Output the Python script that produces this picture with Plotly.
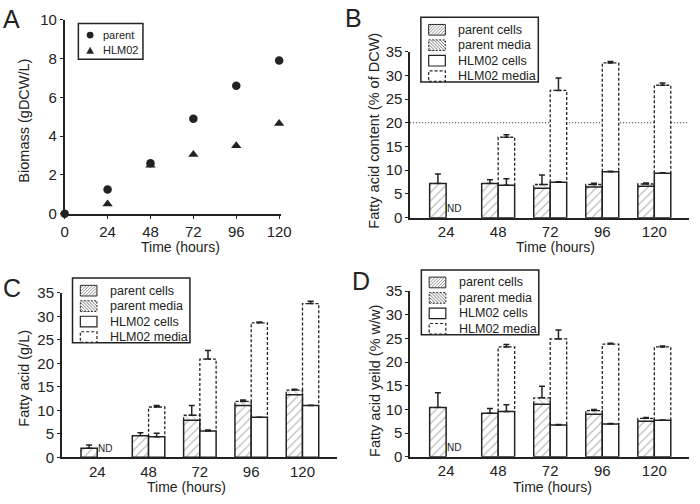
import plotly.graph_objects as go

FONT = "Liberation Sans, Arial, sans-serif"
INK = "#222222"

# ---------------- data ----------------
hours_a = [0, 24, 48, 72, 96, 120]
biomass_parent = [0.0, 1.25, 2.6, 4.9, 6.6, 7.9]
biomass_hlm02 = [-0.05, 0.5, 2.5, 3.05, 3.5, 4.65]

hours = [24, 48, 72, 96, 120]

# Panel B: fatty acid content (% of DCW)
b_parent_cells = [7.2, 7.2, 6.2, 6.45, 6.65]
b_parent_media = [0.0, 0.0, 0.8, 0.55, 0.45]
b_parent_err = [2.0, 0.8, 2.0, 0.25, 0.2]
b_hlm_cells = [None, 6.85, 7.45, 9.7, 9.35]
b_hlm_cells_err = [0, 1.35, 0.15, 0.1, 0.1]
b_hlm_media = [None, 10.1, 19.35, 22.9, 18.55]
b_hlm_media_err = [0, 0.5, 2.6, 0.3, 0.45]

# Panel C: fatty acid (g/L)
c_parent_cells = [1.95, 4.6, 7.9, 11.0, 13.3]
c_parent_media = [0.0, 0.0, 1.05, 0.9, 1.0]
c_parent_err = [0.65, 0.65, 2.05, 0.3, 0.2]
c_hlm_cells = [None, 4.4, 5.6, 8.5, 11.0]
c_hlm_cells_err = [0, 0.7, 0.2, 0.05, 0.05]
c_hlm_media = [None, 6.3, 15.3, 20.1, 21.7]
c_hlm_media_err = [0, 0.3, 1.8, 0.2, 0.5]

# Panel D: fatty acid yield (% w/w)
d_parent_cells = [10.4, 9.2, 11.1, 8.95, 7.5]
d_parent_media = [0.0, 0.0, 1.35, 0.8, 0.6]
d_parent_err = [3.1, 1.0, 2.45, 0.2, 0.2]
d_hlm_cells = [None, 9.55, 6.7, 6.9, 7.7]
d_hlm_cells_err = [0, 1.45, 0.1, 0.1, 0.05]
d_hlm_media = [None, 13.65, 18.2, 16.9, 15.5]
d_hlm_media_err = [0, 0.5, 1.9, 0.2, 0.2]

legend_names = ["parent cells", "parent media", "HLM02 cells", "HLM02 media"]
legend_names_a = ["parent", "HLM02"]
y_titles = ["Biomass (gDCW/L)", "Fatty acid content (% of DCW)",
            "Fatty acid (g/L)", "Fatty acid yeild (% w/w)"]
x_title = "Time (hours)"

BAR_W = 7.6  # bar width in hours
W, H = 700, 504

fig = go.Figure()

# ---------------- Panel A ----------------
fig.add_trace(go.Scatter(x=hours_a, y=biomass_parent, mode="markers", name=legend_names_a[0],
                         marker=dict(symbol="circle", size=8.5, color=INK),
                         cliponaxis=False, xaxis="x", yaxis="y", showlegend=False))
fig.add_trace(go.Scatter(x=hours_a, y=biomass_hlm02, mode="markers", name=legend_names_a[1],
                         marker=dict(symbol="triangle-up", size=9, color=INK),
                         cliponaxis=False, xaxis="x", yaxis="y", showlegend=False))


def add_bar_panel(xa, ya, pc, pm, perr, hc, herr, hm, hmerr):
    base_p = pc
    base_h = [v if v is not None else 0 for v in hc]
    # media bars first (white fill), parent media hatched
    fig.add_trace(go.Bar(x=hours, y=pm, base=base_p, offset=-BAR_W, width=BAR_W, name=legend_names[1],
                         marker=dict(color="white", line=dict(width=0),
                                     pattern=dict(shape="\\", fgcolor="#888", bgcolor="white",
                                                  size=5, solidity=0.2)),
                         error_y=dict(type="data", symmetric=False, array=perr,
                                      arrayminus=[0] * len(perr), color=INK, thickness=1.5, width=3),
                         showlegend=False, xaxis=xa, yaxis=ya))
    fig.add_trace(go.Bar(x=hours, y=hm, base=base_h, offset=0, width=BAR_W, name=legend_names[3],
                         marker=dict(color="white", line=dict(width=0)),
                         error_y=dict(type="data", symmetric=False, array=hmerr,
                                      arrayminus=[0] * len(hmerr), color=INK, thickness=1.5, width=3),
                         showlegend=False, xaxis=xa, yaxis=ya))
    # cells bars
    fig.add_trace(go.Bar(x=hours, y=pc, offset=-BAR_W, width=BAR_W, name=legend_names[0],
                         marker=dict(color="white", line=dict(width=1.5, color=INK),
                                     pattern=dict(shape="/", fgcolor="#777", bgcolor="white",
                                                  size=6, solidity=0.2)),
                         showlegend=False, xaxis=xa, yaxis=ya))
    fig.add_trace(go.Bar(x=hours, y=hc, offset=0, width=BAR_W, name=legend_names[2],
                         marker=dict(color="white", line=dict(width=1.5, color=INK)),
                         error_y=dict(type="data", symmetric=False, array=herr,
                                      arrayminus=[0] * len(herr), color=INK, thickness=1.5, width=3),
                         showlegend=False, xaxis=xa, yaxis=ya))
    # dashed outlines for the media parts
    for off, base, vals in ((-BAR_W, base_p, pm), (0, base_h, hm)):
        xs, ys = [], []
        for h, b, v in zip(hours, base, vals):
            if v is None or v <= 0:
                continue
            x0, x1 = h + off, h + off + BAR_W
            xs += [x0, x0, x1, x1, None]
            ys += [b, b + v, b + v, b, None]
        fig.add_trace(go.Scatter(x=xs, y=ys, mode="lines", showlegend=False, hoverinfo="skip",
                                 line=dict(color=INK, width=1.3, dash="3px,2px"),
                                 xaxis=xa, yaxis=ya))


add_bar_panel("x2", "y2", b_parent_cells, b_parent_media, b_parent_err,
              b_hlm_cells, b_hlm_cells_err, b_hlm_media, b_hlm_media_err)
add_bar_panel("x3", "y3", c_parent_cells, c_parent_media, c_parent_err,
              c_hlm_cells, c_hlm_cells_err, c_hlm_media, c_hlm_media_err)
add_bar_panel("x4", "y4", d_parent_cells, d_parent_media, d_parent_err,
              d_hlm_cells, d_hlm_cells_err, d_hlm_media, d_hlm_media_err)

# ---------------- axes ----------------
tickfont = dict(family=FONT, size=15, color=INK)
titlefont = dict(family=FONT, size=14.5, color=INK)
common = dict(showline=True, linecolor=INK, linewidth=1.5, showgrid=False, zeroline=False,
              tickfont=tickfont, ticks="outside", ticklen=3, tickcolor=INK, tickwidth=1)


def xbar(domain, anchor):
    return dict(common, domain=domain, anchor=anchor, range=[7.4, 136], tickvals=hours, ticks="")


def ybar(domain, anchor):
    return dict(common, domain=domain, anchor=anchor, range=[0, 35], dtick=5)


fig.update_layout(
    width=W, height=H, margin=dict(l=0, r=0, t=0, b=0),
    paper_bgcolor="white", plot_bgcolor="white", barmode="overlay", showlegend=False,
    font=dict(family=FONT, color=INK),
    xaxis=dict(common, domain=[0.0886, 0.4043], anchor="y", range=[0, 121], tickvals=hours_a),
    yaxis=dict(common, domain=[0.5794, 0.9782], anchor="x", range=[0, 10], dtick=2),
    xaxis2=xbar([0.5929, 1.0], "y2"),
    yaxis2=ybar([0.5714, 0.9127], "x2"),
    xaxis3=xbar([0.0843, 0.4857], "y3"),
    yaxis3=ybar([0.0794, 0.4173], "x3"),
    xaxis4=xbar([0.5929, 1.0], "y4"),
    yaxis4=ybar([0.0808, 0.4206], "x4"),
)

# dotted reference line at 20 in panel B
fig.add_shape(type="line", xref="x2 domain", yref="y2", x0=0, x1=1, y0=20, y1=20,
              line=dict(color=INK, width=1.2, dash="1px,2px"), layer="below")


# ---------------- hand-drawn legends (pixel layout -> paper coords) ----------------
def px(x):
    return x / W


def py(y):
    return 1 - y / H


def rect(x0, y0, x1, y1, width=1.5, dash="solid", fill="white"):
    fig.add_shape(type="rect", xref="paper", yref="paper", x0=px(x0), x1=px(x1),
                  y0=py(y1), y1=py(y0), line=dict(color=INK, width=width, dash=dash),
                  fillcolor=fill, layer="above")


def hatch(x0, y0, x1, y1, forward=True, step=3.2, color="#777"):
    segs = []
    if forward:  # "/" : x + y = c
        c = x0 + y0 + step
        while c < x1 + y1:
            xa, xb = max(x0, c - y1), min(x1, c - y0)
            if xb > xa:
                segs.append(f"M{px(xa):.5f},{py(c - xa):.5f}L{px(xb):.5f},{py(c - xb):.5f}")
            c += step
    else:  # "\" : x - y = c
        c = x0 - y1 + step
        while c < x1 - y0:
            xa, xb = max(x0, c + y0), min(x1, c + y1)
            if xb > xa:
                segs.append(f"M{px(xa):.5f},{py(xa - c):.5f}L{px(xb):.5f},{py(xb - c):.5f}")
            c += step
    fig.add_shape(type="path", xref="paper", yref="paper", path="".join(segs),
                  line=dict(color=color, width=0.8), layer="above")


def label(text, x, y, size):
    fig.add_annotation(text=text, xref="paper", yref="paper", x=px(x), y=py(y),
                       xanchor="left", yanchor="middle", showarrow=False,
                       font=dict(family=FONT, size=size, color=INK))


def bar_legend(bx, by):
    rect(bx, by, bx + 120, by + 67)
    rows = [by + 13, by + 29, by + 45, by + 61]
    sx0, sx1 = bx + 8, bx + 25
    for i, (name, cy) in enumerate(zip(legend_names, rows)):
        y0, y1 = cy - 5.5, cy + 5.5
        if i == 0:
            rect(sx0, y0, sx1, y1, width=1)
            hatch(sx0, y0, sx1, y1, forward=True)
        elif i == 1:
            rect(sx0, y0, sx1, y1, width=1, dash="2px,1.5px")
            hatch(sx0, y0, sx1, y1, forward=False, color="#555")
        elif i == 2:
            rect(sx0, y0, sx1, y1, width=1.2)
        else:
            rect(sx0, y0, sx1, y1, width=1.2, dash="3px,2px")
        label(name, bx + 36, cy, 12.5)


bar_legend(426, 8.5)
bar_legend(70, 278.5)
bar_legend(426.5, 270)

# legend for panel A
rect(76, 15, 142, 52)
fig.add_shape(type="circle", xref="paper", yref="paper", x0=px(84.5), x1=px(91.5),
              y0=py(30.5), y1=py(23.5), fillcolor=INK, line=dict(color=INK, width=0), layer="above")
fig.add_shape(type="path", xref="paper", yref="paper",
              path=f"M{px(84.5)},{py(46)}L{px(91.5)},{py(46)}L{px(88)},{py(39.5)}Z",
              fillcolor=INK, line=dict(color=INK, width=0.5), layer="above")
label(legend_names_a[0], 99, 27, 11)
label(legend_names_a[1], 99, 42.5, 11)

# axis titles
for txt, x, y in zip(y_titles, (21, 378, 21, 379), (116, 126, 382, 385)):
    fig.add_annotation(text=txt, xref="paper", yref="paper", x=px(x), y=py(y), textangle=-90,
                       xanchor="center", yanchor="middle", showarrow=False, font=titlefont)
for x, y in ((180, 256), (564, 256), (186, 503.5), (560, 503.5)):
    fig.add_annotation(text=x_title, xref="paper", yref="paper", x=px(x), y=py(y),
                       xanchor="center", yanchor="bottom", showarrow=False, borderpad=0,
                       font=dict(family=FONT, size=14, color=INK))

# panel letters and ND labels
for txt, x, y in (("A", 8, 10), ("B", 357, 9), ("C", 8, 289), ("D", 365, 282)):
    fig.add_annotation(text=txt, xref="paper", yref="paper", x=px(x), y=py(y),
                       xanchor="center", yanchor="middle", showarrow=False,
                       font=dict(family=FONT, size=25, color=INK))
for xa, ya in (("x2", "y2"), ("x3", "y3"), ("x4", "y4")):
    fig.add_annotation(text="ND", xref=xa, yref=ya, x=hours[0] + BAR_W / 2, y=0.3,
                       xanchor="center", yanchor="bottom", showarrow=False,
                       font=dict(family=FONT, size=10, color=INK))

fig.write_html("out.html", config={"displayModeBar": False},
               post_script="document.body.style.margin='0px';")
